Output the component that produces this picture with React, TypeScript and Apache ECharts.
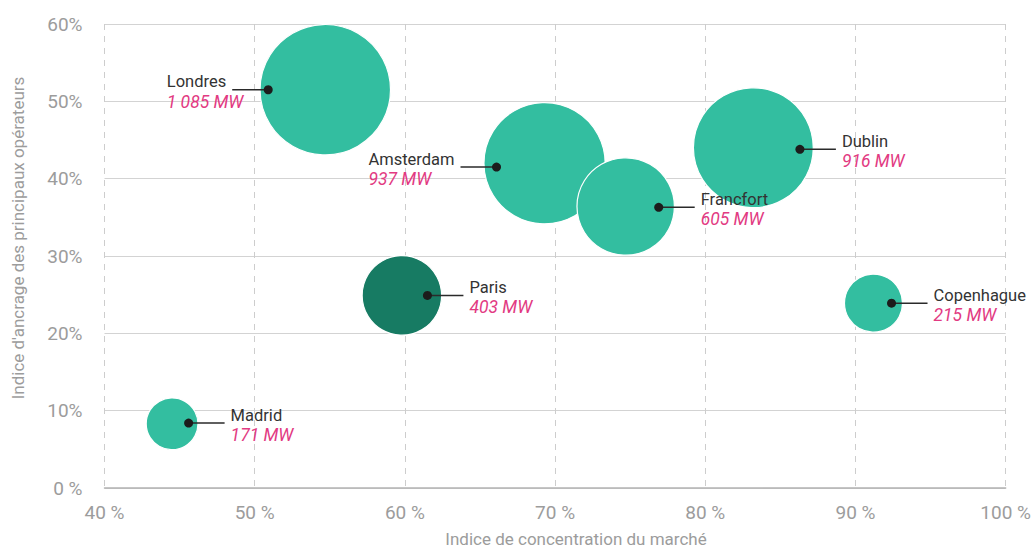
import React, { useEffect, useRef } from "react";
import * as echarts from "echarts";

// Data centres: market concentration vs. anchoring of main operators, bubble area = capacity
const cities = ["Londres", "Amsterdam", "Francfort", "Dublin", "Paris", "Copenhague", "Madrid"];
const concentration = [54.7, 69.3, 74.7, 83.2, 59.8, 91.2, 44.5];
const anchoring = [51.5, 42.0, 36.4, 44.0, 24.9, 23.9, 8.3];
const capacityMW = [1085, 937, 605, 916, 403, 215, 171];
// pointer dot for each city's callout
const markerX = [50.9, 66.1, 76.9, 86.3, 61.5, 92.4, 45.6];
const markerY = [51.5, 41.5, 36.3, 43.8, 24.9, 23.9, 8.4];
const labelSide = ["left", "left", "right", "right", "right", "right", "right"];
const highlightCity = "Paris";

const xTicks = [40, 50, 60, 70, 80, 90, 100];
const yTicks = [0, 10, 20, 30, 40, 50, 60];

const FONT = 'Roboto, "Liberation Sans", Arial, sans-serif';
const NAME_SIZE = 16.5;
const VALUE_SIZE = 17.5;
const TEAL = "#33bea0";
const TEAL_DARK = "#177b63";
const PINK = "#e23a82";
const AXIS_GREY = "#9c9c9c";

const formatMW = (n: number) => String(n).replace(/\B(?=(\d{3})+(?!\d))/g, " ") + " MW";

let measureCtx: CanvasRenderingContext2D | null = null;
function textWidth(text: string, font: string): number {
  if (!measureCtx) measureCtx = document.createElement("canvas").getContext("2d");
  if (!measureCtx) return text.length * 8;
  measureCtx.font = font;
  return measureCtx.measureText(text).width;
}

export default function App() {
  const ref = useRef<HTMLDivElement>(null);

  useEffect(() => {
    if (!ref.current) return;
    const chart = echarts.init(ref.current, undefined, { renderer: "svg" });

    const bubbleData = cities.map((c, i) => ({
      value: [concentration[i], anchoring[i], capacityMW[i]],
      itemStyle: { color: c === highlightCity ? TEAL_DARK : TEAL },
    }));
    const markerData = cities.map((_, i) => [markerX[i], markerY[i], i]);

    const LINE = 36;
    const GAP = 6;

    const option: any = {
      animation: false,
      grid: { left: 104.5, right: 25, top: 24, bottom: 69 },
      xAxis: {
        type: "value",
        min: xTicks[0],
        max: xTicks[xTicks.length - 1],
        interval: 10,
        axisLine: { show: true, lineStyle: { color: "#b3b3b3", width: 1.5 } },
        axisTick: { show: false },
        axisLabel: {
          formatter: (v: number) => `${v} %`,
          color: AXIS_GREY,
          fontSize: 19,
          fontFamily: FONT,
          margin: 15,
        },
        splitLine: { show: true, lineStyle: { color: "#cdcdcd", type: [6, 6], width: 1 } },
      },
      yAxis: {
        type: "value",
        min: yTicks[0],
        max: yTicks[yTicks.length - 1],
        interval: 10,
        axisLine: { show: false },
        axisTick: { show: false },
        axisLabel: {
          formatter: (v: number) => (v === 0 ? "0 %" : `${v}%`),
          color: AXIS_GREY,
          fontSize: 19,
          fontFamily: FONT,
          margin: 22,
        },
        splitLine: { show: true, lineStyle: { color: "#d3d3d3", width: 1.2 } },
      },
      graphic: [
        {
          type: "text",
          x: 576,
          y: 539,
          style: {
            text: "Indice de concentration du marché",
            fill: AXIS_GREY,
            fontSize: 17,
            fontFamily: FONT,
            align: "center",
            verticalAlign: "middle",
          },
        },
        {
          type: "text",
          x: 18,
          y: 238,
          rotation: Math.PI / 2,
          style: {
            text: "Indice d'ancrage des principaux opérateurs",
            fill: AXIS_GREY,
            fontSize: 17,
            fontFamily: FONT,
            align: "center",
            verticalAlign: "middle",
          },
        },
      ],
      series: [
        {
          type: "scatter",
          silent: true,
          z: 2,
          data: bubbleData,
          symbolSize: (val: number[]) => 3.96 * Math.sqrt(val[2]),
          itemStyle: { borderColor: "#ffffff", borderWidth: 1.2, opacity: 1 },
        },
        {
          type: "custom",
          silent: true,
          z: 10,
          data: markerData,
          encode: { x: 0, y: 1 },
          renderItem: (_params: any, api: any) => {
            const i = api.value(2) as number;
            const [px, py] = api.coord([api.value(0), api.value(1)]);
            const name = cities[i];
            const value = formatMW(capacityMW[i]);
            const right = labelSide[i] === "right";
            const xEnd = right ? px + LINE : px - LINE;
            let nameX: number;
            let valueX: number;
            if (right) {
              nameX = xEnd + GAP;
              valueX = nameX;
            } else {
              nameX = xEnd - GAP;
              valueX = nameX - textWidth(name, `${NAME_SIZE}px ${FONT}`);
            }
            return {
              type: "group",
              children: [
                {
                  type: "line",
                  z2: 10,
                  shape: { x1: px, y1: py, x2: xEnd, y2: py },
                  style: { stroke: "#2a2a2a", lineWidth: 1.5 },
                },
                {
                  type: "circle",
                  z2: 11,
                  shape: { cx: px, cy: py, r: 4.5 },
                  style: { fill: "#1c1c1c" },
                },
                {
                  type: "text",
                  z2: 12,
                  style: {
                    text: name,
                    x: nameX,
                    y: py - 8,
                    fill: "#333333",
                    fontSize: NAME_SIZE,
                    fontFamily: FONT,
                    align: right ? "left" : "right",
                    verticalAlign: "middle",
                  },
                },
                {
                  type: "text",
                  z2: 12,
                  style: {
                    text: value,
                    x: valueX,
                    y: py + 12,
                    fill: PINK,
                    fontSize: VALUE_SIZE,
                    fontStyle: "italic",
                    fontFamily: FONT,
                    align: "left",
                    verticalAlign: "middle",
                  },
                },
              ],
            };
          },
        },
      ],
    };

    chart.setOption(option);
    return () => chart.dispose();
  }, []);

  return (
    <div
      ref={ref}
      style={{ position: "fixed", left: 0, top: 0, width: 1034, height: 557, background: "#ffffff" }}
    />
  );
}
